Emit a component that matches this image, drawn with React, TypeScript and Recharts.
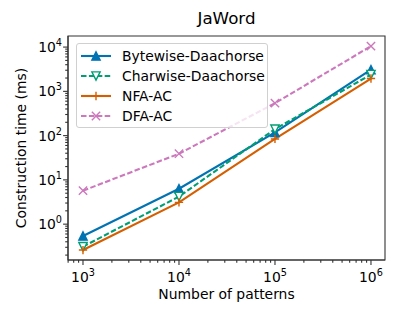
import { Legend, Line, LineChart, ReferenceArea, XAxis, YAxis } from "recharts";

const patterns = [1e3, 1e4, 1e5, 1e6];
const bytewise = [0.54, 6.3, 118, 3100];
const charwise = [0.31, 4.2, 140, 2400];
const nfaAc = [0.26, 3.1, 84, 1950];
const dfaAc = [5.7, 39, 540, 10500];

const xMajor = [1e3, 1e4, 1e5, 1e6];
const yMajor = [1, 10, 100, 1000, 10000];
const xDomain: [number, number] = [698, 1.4e6];
const yDomain: [number, number] = [0.155, 17800];

const FONT = "'DejaVu Sans', sans-serif";
const AXIS = "#333";

const series = [
  { key: "bytewise", name: "Bytewise-Daachorse", color: "#0173B2", dash: undefined, marker: "tri" },
  { key: "charwise", name: "Charwise-Daachorse", color: "#029E73", dash: "5.5 2.4", marker: "tridown" },
  { key: "nfa", name: "NFA-AC", color: "#D55E00", dash: undefined, marker: "plus" },
  { key: "dfa", name: "DFA-AC", color: "#CC78BC", dash: "5.5 2.4", marker: "x" },
];

const data = patterns.map((n, i) => ({
  n,
  bytewise: bytewise[i],
  charwise: charwise[i],
  nfa: nfaAc[i],
  dfa: dfaAc[i],
}));

// major decades plus 2..9 minor ticks inside the domain
function withMinor([lo, hi]: [number, number]) {
  const out: number[] = [];
  const k0 = Math.floor(Math.log10(lo));
  const k1 = Math.ceil(Math.log10(hi));
  for (let k = k0; k <= k1; k++) {
    for (let m = 1; m <= 9; m++) {
      const v = +(m * Math.pow(10, k)).toPrecision(6);
      if (v >= lo && v <= hi) out.push(v);
    }
  }
  return out;
}

const xTicks = withMinor(xDomain);
const yTicks = withMinor(yDomain);

function Marker({ type, cx, cy, color }: { type: string; cx: number; cy: number; color: string }) {
  const r = 4.15;
  if (type === "tri")
    return (
      <path
        d={`M${cx},${cy - r}L${cx - r},${cy + r}L${cx + r},${cy + r}Z`}
        fill={color}
        stroke={color}
        strokeWidth={1.4}
      />
    );
  if (type === "tridown")
    return (
      <path
        d={`M${cx},${cy + r}L${cx - r},${cy - r}L${cx + r},${cy - r}Z`}
        fill="#fff"
        stroke={color}
        strokeWidth={1.4}
      />
    );
  if (type === "plus")
    return (
      <path
        d={`M${cx - r},${cy}H${cx + r}M${cx},${cy - r}V${cy + r}`}
        stroke={color}
        strokeWidth={1.4}
        fill="none"
      />
    );
  return (
    <path
      d={`M${cx - r},${cy - r}L${cx + r},${cy + r}M${cx - r},${cy + r}L${cx + r},${cy - r}`}
      stroke={color}
      strokeWidth={1.4}
      fill="none"
    />
  );
}

function Pow10({ exp, ...rest }: any) {
  return (
    <text fontFamily={FONT} fontSize={13.9} fill="#000" {...rest}>
      <tspan>10</tspan>
      <tspan dy={-6} fontSize={9.7}>
        {exp}
      </tspan>
    </text>
  );
}

function XTick(props: any) {
  const { x, y, payload } = props;
  const major = xMajor.includes(payload.value);
  return (
    <g>
      <line x1={x} x2={x} y1={y} y2={y + (major ? 4.9 : 2.8)} stroke={AXIS} strokeWidth={1.1} />
      {major && <Pow10 x={x} y={y + 22} textAnchor="middle" exp={Math.round(Math.log10(payload.value))} />}
    </g>
  );
}

function YTick(props: any) {
  const { x, y, payload } = props;
  const major = yMajor.includes(payload.value);
  return (
    <g>
      <line x1={x} x2={x - (major ? 4.9 : 2.8)} y1={y} y2={y} stroke={AXIS} strokeWidth={1.1} />
      {major && <Pow10 x={x - 6} y={y + 5} textAnchor="end" exp={Math.round(Math.log10(payload.value))} />}
    </g>
  );
}

function LegendBox() {
  return (
    <div
      style={{
        boxSizing: "border-box",
        width: 192,
        height: 85,
        border: "1px solid #d0d0d0",
        borderRadius: 3,
        background: "rgba(255,255,255,0.8)",
        padding: "2px 0 0 4px",
        fontFamily: FONT,
        fontSize: 13.9,
        color: "#000",
      }}
    >
      {series.map((s) => (
        <div key={s.key} style={{ display: "flex", alignItems: "center", height: 20 }}>
          <svg width={30} height={12} style={{ marginRight: 11 }}>
            <line x1={0} x2={30} y1={6} y2={6} stroke={s.color} strokeWidth={2.1} strokeDasharray={s.dash} />
            <Marker type={s.marker} cx={15} cy={6} color={s.color} />
          </svg>
          <span>{s.name}</span>
        </div>
      ))}
    </div>
  );
}

export default function App() {
  return (
    <div style={{ position: "absolute", left: 0, top: 0, width: 400, height: 320, background: "#fff" }}>
      <LineChart width={400} height={320} data={data} margin={{ top: 36, right: 15, bottom: 0, left: 0 }}>
        <XAxis
          dataKey="n"
          type="number"
          scale="log"
          domain={xDomain}
          allowDataOverflow
          ticks={xTicks}
          interval={0}
          height={60}
          tickSize={0}
          tickMargin={0}
          tickLine={false}
          axisLine={{ stroke: AXIS, strokeWidth: 1.1 }}
          tick={<XTick />}
        />
        <YAxis
          type="number"
          scale="log"
          domain={yDomain}
          allowDataOverflow
          ticks={yTicks}
          interval={0}
          width={68}
          tickSize={0}
          tickMargin={0}
          tickLine={false}
          axisLine={{ stroke: AXIS, strokeWidth: 1.1 }}
          tick={<YTick />}
        />
        <ReferenceArea
          x1={xDomain[0]}
          x2={xDomain[1]}
          y1={yDomain[0]}
          y2={yDomain[1]}
          fill="none"
          stroke={AXIS}
          strokeWidth={1.1}
          ifOverflow="visible"
        />
        {series.map((s) => (
          <Line
            key={s.key}
            dataKey={s.key}
            name={s.name}
            stroke={s.color}
            strokeWidth={2.1}
            strokeDasharray={s.dash}
            isAnimationActive={false}
            dot={(p: any) => <Marker key={p.key ?? `${s.key}-${p.index}`} type={s.marker} cx={p.cx} cy={p.cy} color={s.color} />}
            activeDot={false}
          />
        ))}
        <Legend
          layout="vertical"
          align="center"
          verticalAlign="middle"
          wrapperStyle={{ left: 76, top: 43, width: 192, height: 85 }}
          content={() => <LegendBox />}
        />
      </LineChart>
      <div
        style={{
          position: "absolute",
          left: 68,
          width: 317,
          top: 8,
          textAlign: "center",
          fontFamily: FONT,
          fontSize: 16.7,
          color: "#000",
        }}
      >
        JaWord
      </div>
      <div
        style={{
          position: "absolute",
          left: 68,
          width: 317,
          top: 286,
          textAlign: "center",
          fontFamily: FONT,
          fontSize: 13.9,
          color: "#000",
        }}
      >
        Number of patterns
      </div>
      <div
        style={{
          position: "absolute",
          left: 21,
          top: 148,
          transform: "translate(-50%, -50%) rotate(-90deg)",
          whiteSpace: "nowrap",
          fontFamily: FONT,
          fontSize: 13.9,
          color: "#000",
        }}
      >
        Construction time (ms)
      </div>
    </div>
  );
}
